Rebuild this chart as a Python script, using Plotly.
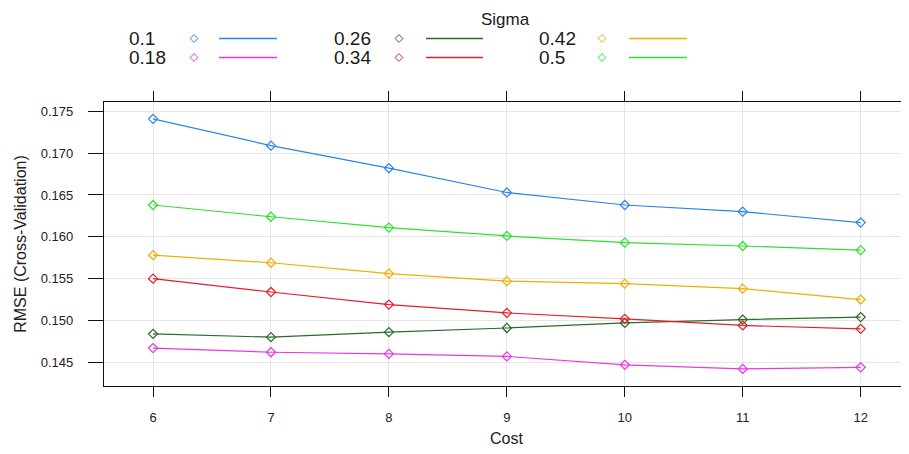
import plotly.graph_objects as go

cost = [6, 7, 8, 9, 10, 11, 12]
sigma_labels = ["0.1", "0.18", "0.26", "0.34", "0.42", "0.5"]
rmse_01 = [0.1741, 0.1709, 0.1682, 0.1653, 0.1638, 0.1630, 0.1617]
rmse_018 = [0.1467, 0.1462, 0.1460, 0.1457, 0.1447, 0.1442, 0.1444]
rmse_026 = [0.1484, 0.1480, 0.1486, 0.1491, 0.1497, 0.1501, 0.1504]
rmse_034 = [0.1550, 0.1534, 0.1519, 0.1509, 0.1502, 0.1494, 0.1490]
rmse_042 = [0.1578, 0.1569, 0.1556, 0.1547, 0.1544, 0.1538, 0.1525]
rmse_05 = [0.1638, 0.1624, 0.1611, 0.1601, 0.1593, 0.1589, 0.1584]
colors = ["#2a85e8", "#e63ae0", "#2a6a2a", "#e41e2a", "#f2ad00", "#2fe02f"]

y_ticks = [0.145, 0.150, 0.155, 0.160, 0.165, 0.170, 0.175]
y_ticktext = ["0.145", "0.150", "0.155", "0.160", "0.165", "0.170", "0.175"]

series = [rmse_01, rmse_018, rmse_026, rmse_034, rmse_042, rmse_05]

# page body has an 8px margin; figure sized to fit the window
OFF = 8
W, H = 901, 446
fig = go.Figure()

for lab, vals, col in zip(sigma_labels, series, colors):
    fig.add_trace(go.Scatter(
        x=cost, y=vals, mode="lines+markers", name=lab,
        line=dict(color=col, width=1.2),
        marker=dict(symbol="diamond-open", size=7, color=col, line=dict(width=1.2)),
        showlegend=False, xaxis="x", yaxis="y"))

# key (lattice-style) drawn on a pixel-space overlay axis
key_cols = [(127, 194, 219, 277), (332, 399, 426, 483), (537, 602, 629, 687)]
key_rows = [38.5, 57.5]
annotations = []
for i, (lab, col) in enumerate(zip(sigma_labels, colors)):
    c = key_cols[i // 2]
    ry = key_rows[i % 2] - OFF
    annotations.append(dict(x=(c[0] - OFF) / W, y=1 - ry / H, xref="paper", yref="paper",
                            text=lab, showarrow=False, xanchor="left", yanchor="middle",
                            font=dict(size=19, color="#1a1a1a")))
    fig.add_trace(go.Scatter(x=[c[1] - OFF], y=[ry], mode="markers",
                             marker=dict(symbol="diamond-open", size=6, color=col, line=dict(width=1)),
                             xaxis="x2", yaxis="y2", showlegend=False, hoverinfo="skip"))
    fig.add_trace(go.Scatter(x=[c[2] - OFF, c[3] - OFF], y=[ry, ry], mode="lines",
                             line=dict(color=col, width=1.3),
                             xaxis="x2", yaxis="y2", showlegend=False, hoverinfo="skip"))

annotations.append(dict(x=(505.5 - OFF) / W, y=1, xref="paper", yref="paper",
                        text="Sigma", showarrow=False, xanchor="center", yanchor="top",
                        font=dict(size=17, color="#1a1a1a")))

fig.update_layout(
    width=W, height=H,
    margin=dict(l=0, r=0, t=0, b=0),
    paper_bgcolor="white", plot_bgcolor="rgba(0,0,0,0)",
    font=dict(family="Liberation Sans, Arial, sans-serif", color="#1a1a1a"),
    annotations=annotations,
    xaxis=dict(domain=[(104 - OFF) / W, 1], range=[5.584, 12.41], tickvals=cost,
               ticktext=[str(c) for c in cost],
               showgrid=True, gridcolor="#e6e6e6", gridwidth=1, zeroline=False,
               showline=True, linecolor="#111", linewidth=1.2, mirror="ticks",
               ticks="outside", ticklen=10, tickcolor="#111", tickwidth=1.2,
               ticklabelstandoff=10,
               tickfont=dict(size=13, color="#222"),
               title=dict(text="Cost", font=dict(size=16, color="#222"), standoff=8),
               anchor="y"),
    yaxis=dict(domain=[(454 - 385.7) / H, (454 - 102.3) / H], range=[0.14220, 0.17608],
               tickvals=y_ticks, ticktext=y_ticktext,
               showgrid=True, gridcolor="#e6e6e6", gridwidth=1, zeroline=False,
               showline=True, linecolor="#111", linewidth=1.2, mirror=False,
               ticks="outside", ticklen=15, tickcolor="#111", tickwidth=1.2,
               ticklabelstandoff=12,
               tickfont=dict(size=13, color="#222"),
               title=dict(text="RMSE (Cross-Validation)", font=dict(size=16, color="#222"), standoff=10),
               anchor="x"),
    xaxis2=dict(domain=[0, 1], range=[0, W], visible=False, anchor="y2", fixedrange=True),
    yaxis2=dict(domain=[0, 1], range=[H, 0], visible=False, anchor="x2", fixedrange=True),
)

fig.write_html("out.html")
